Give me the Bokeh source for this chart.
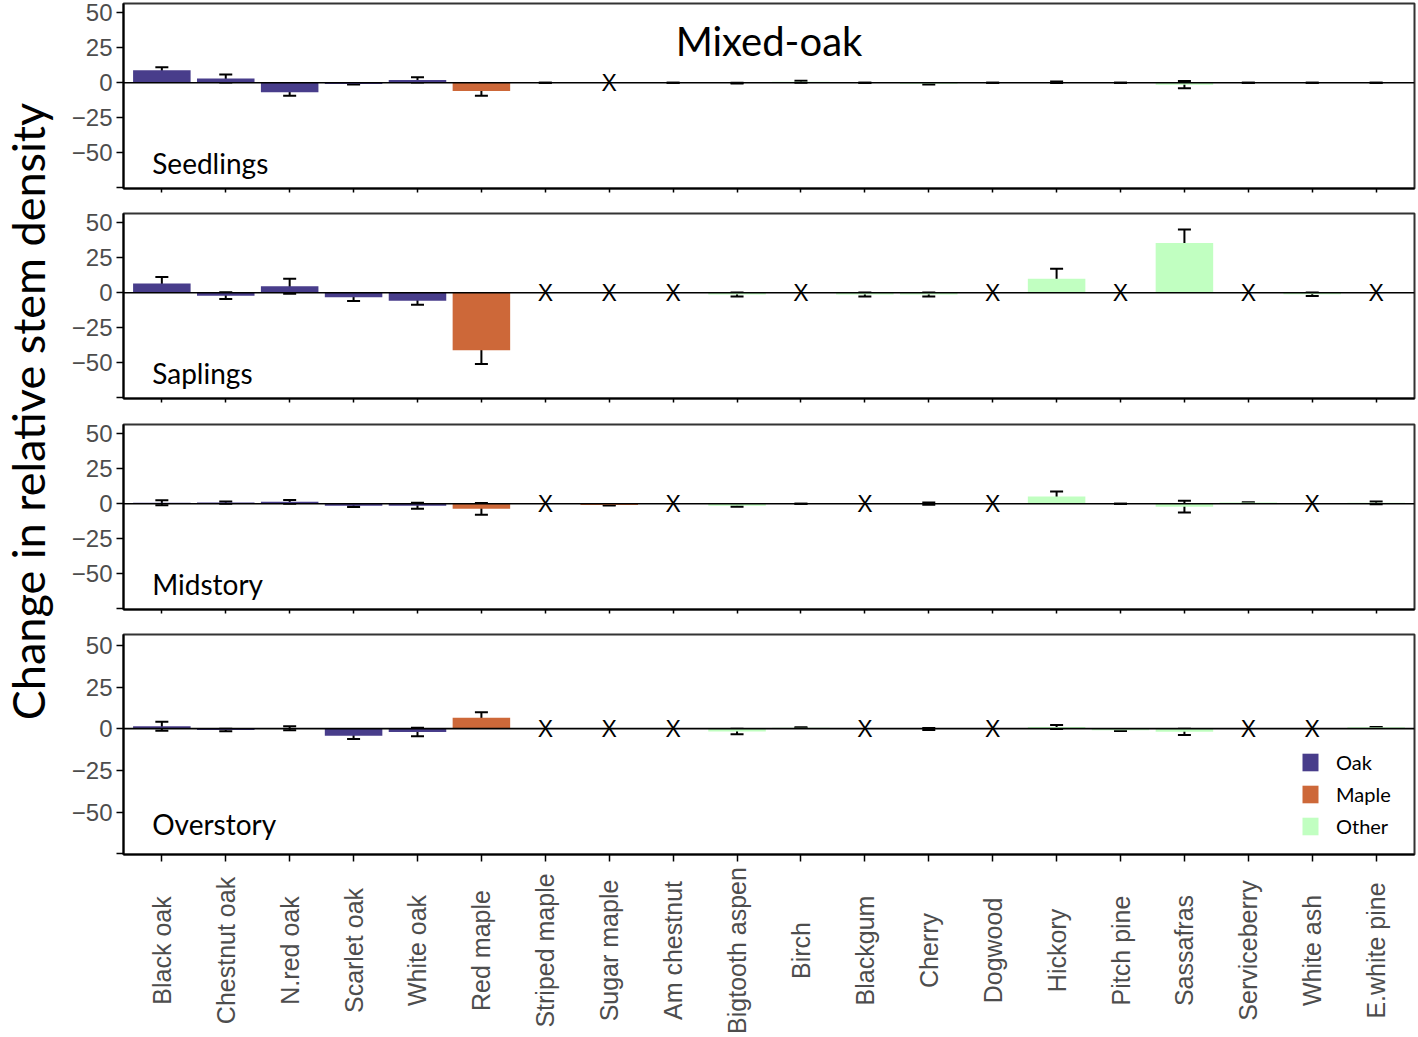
import math
from bokeh.plotting import figure
from bokeh.models import (ColumnDataSource, Range1d, FixedTicker, Whisker, TeeHead,
                          Span, Legend, LegendItem, Label, CustomLabelingPolicy)
from bokeh.layouts import row, column
from bokeh.core.properties import value
from bokeh.embed import file_html
from bokeh.resources import INLINE

# ---------------- data ----------------
categories = ["Black oak", "Chestnut oak", "N.red oak", "Scarlet oak", "White oak",
              "Red maple", "Striped maple", "Sugar maple", "Am chestnut", "Bigtooth aspen",
              "Birch", "Blackgum", "Cherry", "Dogwood", "Hickory", "Pitch pine",
              "Sassafras", "Serviceberry", "White ash", "E.white pine"]
groups = ["Oak"] * 5 + ["Maple"] * 3 + ["Other"] * 12

# None = not present (drawn as an X)
seedlings_mean = [8.8, 3.0, -6.9, -0.9, 2.0, -6.0, 0.0, None, 0.0, -0.3,
                  0.7, 0.0, -0.8, 0.0, 0.3, 0.0, -1.4, 0.0, 0.0, 0.0]
seedlings_se = [2.2, 2.9, 2.5, 0.4, 1.9, 3.4, 0.0, None, 0.0, 0.2,
                0.7, 0.0, 0.5, 0.0, 0.5, 0.0, 2.6, 0.0, 0.0, 0.0]

saplings_mean = [6.5, -2.1, 4.6, -3.3, -5.7, -41.0, None, None, None, -1.3,
                 None, -1.3, -1.3, None, 10.0, None, 35.5, None, -1.1, None]
saplings_se = [4.7, 2.4, 5.3, 2.6, 2.9, 9.8, None, None, None, 1.4,
               None, 1.4, 1.4, None, 7.1, None, 9.5, None, 1.2, None]

midstory_mean = [0.6, 0.8, 1.3, -1.5, -1.5, -3.7, None, -1.0, None, -1.4,
                 0.0, None, 0.1, None, 5.2, 0.0, -2.1, 0.8, None, 0.6]
midstory_se = [1.8, 0.8, 1.3, 0.9, 2.2, 4.2, None, 0.35, None, 0.7,
               0.0, None, 0.8, None, 3.5, 0.0, 4.2, 0.3, None, 1.0]

overstory_mean = [1.5, -0.8, 0.2, -4.3, -2.0, 6.5, None, None, None, -1.7,
                  0.6, None, -0.2, None, 1.0, -1.0, -1.9, None, None, 0.8]
overstory_se = [2.7, 0.8, 1.2, 1.9, 2.6, 3.3, None, None, None, 1.6,
                0.2, None, 0.6, None, 1.2, 0.4, 1.9, None, None, 0.2]

panel_names = ["Seedlings", "Saplings", "Midstory", "Overstory"]
title_text = "Mixed-oak"
y_title = "Change in relative stem density"
y_ticks = [-75, -50, -25, 0, 25, 50]
y_tick_labels = ["", "\u221250", "\u221225", "0", "25", "50"]
legend_groups = ["Oak", "Maple", "Other"]
group_colors = {"Oak": "#483D8B", "Maple": "#CD6839", "Other": "#C1FFC1"}

# ---------------- styling ----------------
LBL_FONT = "Lato"
TICK_FONT = "Liberation Sans"
TW = 56          # width of the y-title column
PW = 1360        # width of each panel figure
BL = 67          # left border of panels -> frame starts at x = 123
xr = Range1d(-0.6, 19.6)

no_labels = CustomLabelingPolicy(code="return new Set()")
skip_first = CustomLabelingPolicy(code="""
const result = new Set()
for (const i of indices) { if (i != 0) result.add(i) }
return result
""")


def make_panel(name, means, ses, height, top, bottom, tick_out):
    yr = Range1d(-75.5, 56.5)
    p = figure(width=PW, height=height, x_range=xr, y_range=yr,
               output_backend="svg", toolbar_location=None,
               min_border_left=BL, min_border_right=2, min_border_top=top,
               min_border_bottom=bottom)
    idx = [i for i, m in enumerate(means) if m is not None]
    miss = [i for i, m in enumerate(means) if m is None]
    src = ColumnDataSource(dict(
        x=idx,
        top=[means[i] for i in idx],
        upper=[means[i] + ses[i] for i in idx],
        lower=[means[i] - ses[i] for i in idx],
        color=[group_colors[groups[i]] for i in idx],
        group=[groups[i] for i in idx],
    ))
    r = p.vbar(x="x", top="top", bottom=0, width=0.9, fill_color="color",
               line_color=None, source=src)
    p.add_layout(Span(location=0, dimension="width", line_color="black", line_width=1.6))
    w = Whisker(source=src, base="x", upper="upper", lower="lower",
                line_color="black", line_width=2,
                upper_head=TeeHead(size=13, line_width=2, line_color="black"),
                lower_head=TeeHead(size=13, line_width=2, line_color="black"))
    p.add_layout(w)
    if miss:
        p.text(x=miss, y=[0] * len(miss), text=["X"] * len(miss),
               text_font=value(TICK_FONT), text_font_size="23px",
               text_align="center", text_baseline="middle", text_color="black")
    p.add_layout(Label(x=-0.15, y=-57, text=name, text_font=LBL_FONT,
                       text_font_size="28px", text_align="left",
                       text_baseline="middle", text_color="black"))
    # axes
    p.xgrid.visible = False
    p.ygrid.visible = False
    p.outline_line_color = "#333333"
    p.outline_line_width = 2
    p.yaxis.ticker = FixedTicker(ticks=y_ticks)
    p.yaxis.major_label_overrides = {t: l for t, l in zip(y_ticks, y_tick_labels)}
    p.yaxis.major_label_policy = skip_first
    p.yaxis.major_label_text_font = TICK_FONT
    p.yaxis.major_label_text_font_size = "24px"
    p.yaxis.major_label_text_color = "#4D4D4D"
    p.yaxis.major_label_standoff = 4
    p.xaxis.ticker = FixedTicker(ticks=list(range(len(categories))))
    p.xaxis.major_label_policy = no_labels
    p.xaxis.major_label_text_font_size = "1px"
    p.xaxis.major_label_standoff = 0
    for ax in (p.xaxis, p.yaxis):
        ax.axis_line_color = "black"
        ax.axis_line_width = 2
        ax.major_tick_line_color = "black"
        ax.major_tick_line_width = 1.5
        ax.major_tick_in = 0
        ax.minor_tick_line_color = None
    p.yaxis.major_tick_out = 7
    p.xaxis.major_tick_out = tick_out
    return p, r, src


p1, _, _ = make_panel(panel_names[0], seedlings_mean, seedlings_se, 203, 3, 15, 4)
p2, _, _ = make_panel(panel_names[1], saplings_mean, saplings_se, 210, 10, 15, 4)
p3, _, _ = make_panel(panel_names[2], midstory_mean, midstory_se, 211, 11, 15, 4)
p4, r4, s4 = make_panel(panel_names[3], overstory_mean, overstory_se, 241, 10, 10, 7)

p1.add_layout(Label(x=9.5, y=30, text=title_text, text_font=LBL_FONT,
                    text_font_size="40px", text_align="center",
                    text_baseline="middle", text_color="black"))

# legend in bottom panel
grp4 = list(s4.data["group"])
items = [LegendItem(label=g, renderers=[r4], index=grp4.index(g)) for g in legend_groups]
legend = Legend(items=items, location=(1177, 16), orientation="vertical",
                glyph_width=20, glyph_height=22, label_height=22, spacing=8,
                label_standoff=16, padding=0, margin=0, border_line_color=None,
                background_fill_alpha=0, label_text_font=LBL_FONT,
                label_text_font_size="20px", label_text_color="black")
p4.add_layout(legend)

# category labels under the bottom panel
LH = 170
lf = figure(width=PW, height=LH, x_range=xr, y_range=Range1d(0, 1),
            output_backend="svg", toolbar_location=None,
            min_border_left=BL, min_border_right=2, min_border_top=0, min_border_bottom=0,
            x_axis_location=None, y_axis_location=None)
lf.outline_line_color = None
lf.xgrid.visible = False
lf.ygrid.visible = False
lf.text(x=list(range(len(categories))), y=[0.5] * len(categories), text=categories,
        angle=math.pi / 2, text_font=value(TICK_FONT), text_font_size="25px",
        text_align="center", text_baseline="middle", text_color="#4D4D4D")

# y-axis title column
TH = 203 + 210 + 211 + 241 + LH
tf = figure(width=TW, height=TH, x_range=Range1d(0, TW), y_range=Range1d(0, TH),
            output_backend="svg", toolbar_location=None,
            min_border_left=0, min_border_right=0, min_border_top=0, min_border_bottom=0,
            x_axis_location=None, y_axis_location=None)
tf.outline_line_color = None
tf.xgrid.visible = False
tf.ygrid.visible = False
tf.text(x=[27], y=[TH - 411], text=[y_title], angle=math.pi / 2,
        text_font=value(LBL_FONT), text_font_size="45px", text_align="center",
        text_baseline="middle", text_color="black")

layout = row(tf, column(p1, p2, p3, p4, lf))
open("out.html", "w").write(file_html(layout, INLINE))
